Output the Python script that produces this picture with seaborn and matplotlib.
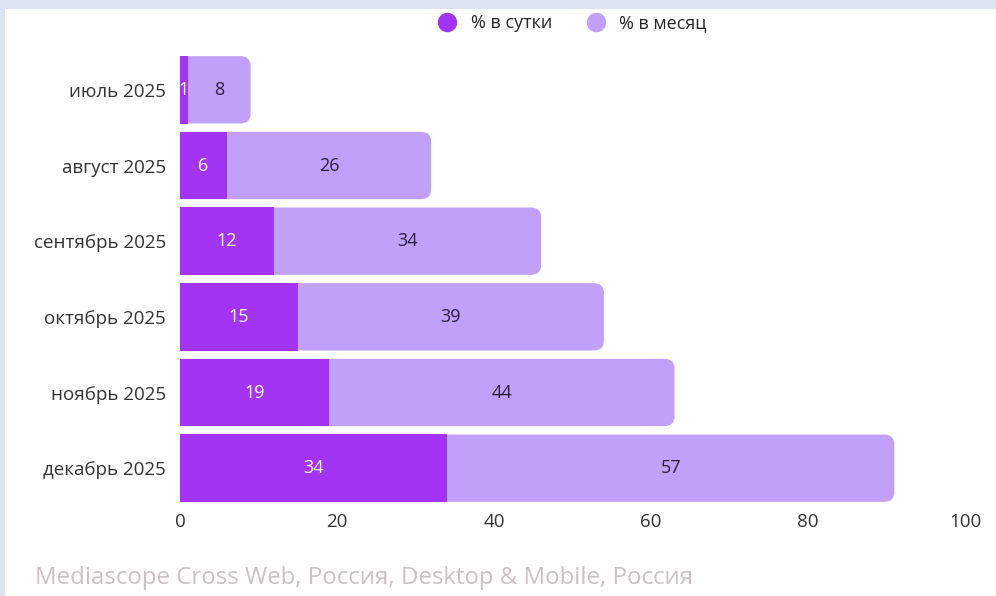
import pandas as pd
import matplotlib.pyplot as plt
import seaborn as sns
from matplotlib.patches import FancyBboxPatch, Rectangle
from matplotlib.lines import Line2D

months = ["июль 2025", "август 2025", "сентябрь 2025", "октябрь 2025", "ноябрь 2025", "декабрь 2025"]
per_day = [1, 6, 12, 15, 19, 34]
per_month = [8, 26, 34, 39, 44, 57]
x_ticks = [0, 20, 40, 60, 80, 100]

df = pd.DataFrame({"month": months, "day": per_day, "month_val": per_month})
df["total"] = df["day"] + df["month_val"]

c_day = "#a334f4"
c_month = "#c0a0f8"

sns.set_theme(style="white")
plt.rcParams["font.family"] = ["Open Sans", "DejaVu Sans"]

fig = plt.figure(figsize=(9.96, 5.96), dpi=100, facecolor="#dfe5f0")
fig.patches.append(Rectangle((5 / 996, 0), 1, 1 - 9 / 596, transform=fig.transFigure,
                             facecolor="white", edgecolor="none", zorder=-5))
ax = fig.add_axes([180 / 996, 1 - 506 / 596, 785 / 996, 454 / 596])
ax.set_zorder(2)
ax.set_facecolor("none")

# stacked: total bar behind, daily bar in front
sns.barplot(data=df, y="month", x="total", color=c_month, width=0.89, saturation=1,
            linewidth=0, ax=ax, orient="h")
sns.barplot(data=df, y="month", x="day", color=c_day, width=0.89, saturation=1,
            linewidth=0, ax=ax, orient="h")

n = len(months)
total_patches = ax.patches[:n]
for p in total_patches:
    x0, y0, w, h = p.get_x(), p.get_y(), p.get_width(), p.get_height()
    p.set_visible(False)
    rb = FancyBboxPatch((x0 - 3, y0), w + 3, h,
                        boxstyle="round,pad=0,rounding_size=1.3",
                        mutation_aspect=0.1, facecolor=c_month, edgecolor="none", zorder=1)
    ax.add_patch(rb)
for p in ax.patches[n:2 * n]:
    p.set_zorder(2)

for i, (d, m) in enumerate(zip(per_day, per_month)):
    ax.text(d / 2, i, str(d), ha="center", va="center", color="white", fontsize=13, zorder=3)
    ax.text(d + m / 2, i, str(m), ha="center", va="center", color="#2a1f3d", fontsize=13, zorder=3)

ax.set_xlim(0, 100)
ax.set_ylim(n - 0.5, -0.5)
ax.set_xticks(x_ticks)
ax.set_xticklabels([str(t) for t in x_ticks])
ax.set_xlabel("")
ax.set_ylabel("")
ax.tick_params(axis="x", labelsize=13.5, colors="#333333", pad=5, length=0)
ax.tick_params(axis="y", labelsize=13.5, colors="#333333", pad=10, length=0)
sns.despine(ax=ax, left=True, bottom=True)
ax.grid(False)

handles = [Line2D([0], [0], marker="o", linestyle="", markersize=13, color=c_day),
           Line2D([0], [0], marker="o", linestyle="", markersize=13, color=c_month)]
fig.legend(handles, ["% в сутки", "% в месяц"], loc="center", bbox_to_anchor=(568 / 996, 1 - 23 / 596),
           ncol=2, frameon=False, fontsize=13, handletextpad=0.3, columnspacing=1.4)

fig.text(35 / 996, 1 - 578 / 596, "Mediascope Cross Web, Россия, Desktop & Mobile, Россия",
         color="#c9c2c2", fontsize=17.3, ha="left", va="center")

fig.savefig("out.png", dpi=100, facecolor=fig.get_facecolor())
